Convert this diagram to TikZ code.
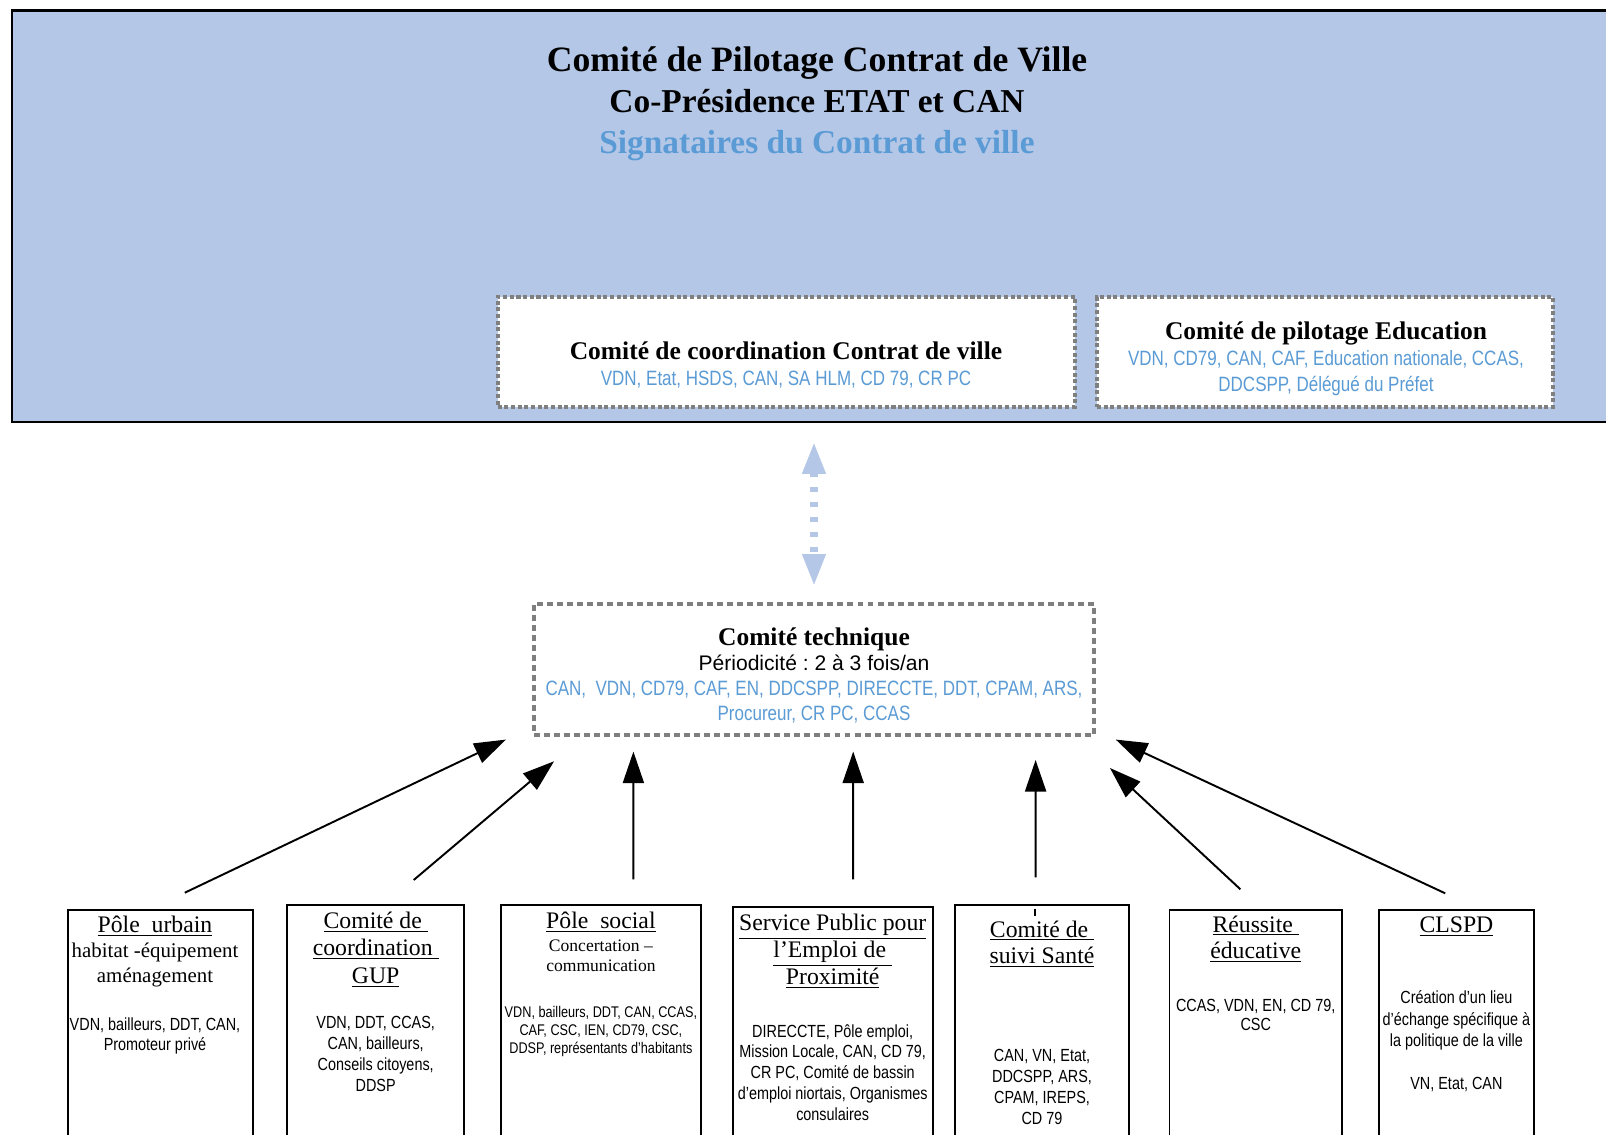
\documentclass[tikz,border=0pt]{standalone}
\usepackage{fontspec}
\setmainfont{Liberation Serif}
\newfontfamily\arialfont{Liberation Sans}
\newfontfamily\narrowfont[FakeStretch=0.82]{Liberation Sans}
\usepackage{xcolor}
\usetikzlibrary{calc,arrows.meta}
\definecolor{pilotblue}{HTML}{B4C7E7}
\definecolor{memberblue}{HTML}{5B9BD5}
\definecolor{framegray}{HTML}{7F7F7F}
\newcommand{\fs}[2]{\fontsize{#1}{#2}\selectfont}
\frenchspacing

\begin{document}
\begin{tikzpicture}[x=0.02cm, y=-0.02cm,
  comitebox/.style={draw=framegray, fill=white, line width=2.3pt, dash pattern=on 2.3pt off 1.5pt},
  techbox/.style={draw=framegray, fill=white, line width=2.6pt, dash pattern=on 3.4pt off 2.3pt},
  polebox/.style={draw=black, line width=1.1pt, anchor=north, minimum height=5.4cm},
  txt/.style={anchor=north, inner sep=0pt, align=center},
  link/.style={-{Triangle[length=18pt,width=12pt]}, line width=1.1pt}]
  \useasboundingbox (0,0) rectangle (1606,1135);

  % Comite de pilotage (blue band)
  \node[draw=black, line width=1.3pt, fill=pilotblue, anchor=north west, inner sep=0pt,
        minimum width=32.4cm, minimum height=8.23cm] (pilot) at (11,9.5) {};
  \node[txt, font=\bfseries\fs{19}{23.3}] (title) at (817,46)
    {{\fs{20.3}{23.3}Comité de Pilotage Contrat de Ville}\\
     Co-Présidence ETAT et CAN\\
     \textcolor{memberblue}{Signataires du Contrat de ville}};

  % Two committees inside the band
  \node[comitebox, minimum width=11.55cm, minimum height=2.2cm] (coord) at (786.25,351.85) {};
  \node[txt, font=\narrowfont\fs{11.8}{15.1}, text=memberblue] (coordtxt) at (786,341.3)
    {{\rmfamily\bfseries\fs{14.5}{15.1}\color{black}Comité de coordination Contrat de ville}\\
     VDN, Etat, HSDS, CAN, SA HLM, CD 79, CR PC};
  \node[comitebox, minimum width=9.12cm, minimum height=2.2cm] (educ) at (1325,352) {};
  \node[txt, font=\narrowfont\fs{11.8}{14.7}, text=memberblue] (eductxt) at (1326,321.3)
    {{\rmfamily\bfseries\fs{14.5}{14.7}\color{black}Comité de pilotage Education}\\
     VDN, CD79, CAN, CAF, Education nationale, CCAS,\\
     DDCSPP, Délégué du Préfet};

  % Comite technique
  \node[techbox, minimum width=11.2cm, minimum height=2.62cm] (tech) at (814,669.5) {};
  \node[txt, font=\narrowfont\fs{11.8}{14.2}, text=memberblue] (techtxt) at (814,627.3)
    {{\rmfamily\bfseries\fs{14.5}{14.2}\color{black}Comité technique}\\
     {\arialfont\fs{12}{14.2}\color{black}Périodicité : 2 à 3 fois/an}\\
     CAN,\ \ VDN, CD79, CAF, EN, DDCSPP, DIRECCTE, DDT, CPAM, ARS,\\
     Procureur, CR PC, CCAS};

  % Dotted double arrow between band and technical committee
  \draw[pilotblue, line width=4pt, dash pattern=on 3pt off 5.5pt,
        {Triangle[length=18pt,width=12.5pt]}-{Triangle[length=18pt,width=12.5pt]}]
    ($(tech.north |- pilot.south)+(0,19)$) -- ($(tech.north)+(0,-16)$);

  % Poles and working groups
  \node[polebox, minimum width=3.7cm] (urb) at (160.2,909) {};
  \node[polebox, minimum width=3.534cm] (gup) at (375.7,904) {};
  \node[polebox, minimum width=4.006cm] (soc) at (600.9,904) {};
  \node[polebox, minimum width=4cm] (emp) at (832.7,906) {};
  \node[polebox, minimum width=3.48cm] (san) at (1042,904) {};
  \node[polebox, minimum width=3.45cm] (reu) at (1255.7,908.7) {};
  \node[polebox, minimum width=3.1cm] (cls) at (1456.4,908.7) {};

  % Texts of the poles
  \node[txt, font=\fs{11.9}{14.2}] (urbtitle) at (155,915.3)
    {{\fs{13.5}{14.2}\underline{Pôle\ \ urbain}}\\ habitat -équipement\\ aménagement};
  \node[txt, font=\narrowfont\fs{10}{11.3}] (urblist) at (155,1017.1)
    {VDN, bailleurs, DDT, CAN,\\ Promoteur privé};

  \node[txt, font=\fs{13.5}{15.6}] (guptitle) at (375.7,911.6)
    {\underline{Comité de\ }\\ \underline{coordination\ }\\ \underline{GUP}};
  \node[txt, font=\narrowfont\fs{10}{12.1}] (guplist) at (375.7,1015.4)
    {VDN, DDT, CCAS,\\ CAN, bailleurs,\\ Conseils citoyens,\\ DDSP};

  \node[txt, font=\fs{10}{11.3}] (soctitle) at (600.9,911.6)
    {{\fs{13.5}{11.3}\underline{Pôle\ \ social}}\\[1.7pt] Concertation –\\ communication};
  \node[txt, font=\narrowfont\fs{8.8}{10.3}] (soclist) at (600.9,1005.5)
    {VDN, bailleurs, DDT, CAN, CCAS,\\ CAF, CSC, IEN, CD79, CSC,\\ DDSP, représentants d’habitants};

  \node[txt, font=\fs{13.5}{15.4}] (emptitle) at (832.7,913.6)
    {\underline{Service Public pour}\\ \underline{l’Emploi de\ }\\ \underline{Proximité}};
  \node[txt, font=\narrowfont\fs{10}{11.8}] (emplist) at (832.7,1024.1)
    {DIRECCTE, Pôle emploi,\\ Mission Locale, CAN, CD 79,\\ CR PC, Comité de bassin\\
     d’emploi niortais, Organismes\\ consulaires};

  \node[txt, font=\fs{13.5}{14.9}] (santitle) at (1042,920.3)
    {\underline{Comité de\ }\\ \underline{suivi Santé}};
  \node[txt, font=\narrowfont\fs{10}{12}] (sanlist) at (1042,1049.1)
    {CAN, VN, Etat,\\ DDCSPP, ARS,\\ CPAM, IREPS,\\ CD 79};
  \draw[line width=1.1pt] ($(san.north)+(-7,5)$) -- ++(0,7);

  \node[txt, font=\fs{13.5}{14.9}] (reutitle) at (1255.7,915.3)
    {\underline{Réussite\ }\\ \underline{éducative}};
  \node[txt, font=\narrowfont\fs{10}{10.8}] (reulist) at (1255.7,999.1)
    {CCAS, VDN, EN, CD 79,\\ CSC};

  \node[txt, font=\fs{13.5}{14.9}] (clstitle) at (1456.4,916.9) {\underline{CLSPD}};
  \node[txt, font=\narrowfont\fs{10}{12.3}] (clslist) at (1456.4,990.2)
    {Création d’un lieu\\ d’échange spécifique à\\ la politique de la ville\\[12.3pt] VN, Etat, CAN};

  % Arrows up to the technical committee
  \draw[link] ($(urb.north)+(24.6,-16.3)$) -- ($(tech.south west)+(-25.8,2.3)$);
  \draw[link] ($(gup.north)+(38,-24)$) -- ($(tech.south west)+(22.3,24)$);
  \draw[link] ($(soc.north)+(32.5,-24.7)$) -- ($(tech.south)+(-180.6,14.3)$);
  \draw[link] ($(emp.north)+(20.5,-26.7)$) -- ($(tech.south)+(39.2,14.3)$);
  \draw[link] ($(san.north)+(-6.4,-26.7)$) -- ($(tech.south)+(221.6,22.7)$);
  \draw[link] ($(reu.north)+(-15.3,-19.4)$) -- ($(tech.south east)+(13.7,30.7)$);
  \draw[link] ($(cls.north)+(-11.2,-15.4)$) -- ($(tech.south east)+(19.5,2.3)$);
\end{tikzpicture}
\end{document}
